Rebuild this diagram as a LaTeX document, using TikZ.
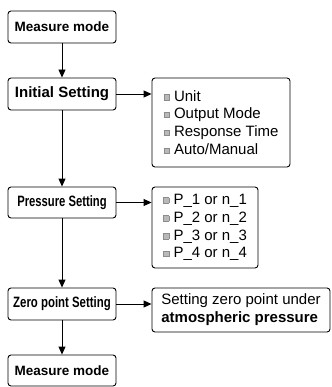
\documentclass[tikz,border=0pt]{standalone}
\usepackage{fontspec}
\setmainfont{Liberation Sans}
\usepackage{graphicx}
\usetikzlibrary{arrows.meta}
\newcommand{\sqbullet}{\raisebox{1.5pt}{{\setlength{\fboxsep}{0pt}\setlength{\fboxrule}{0.5pt}\fcolorbox{gray!90}{gray!55}{\rule{0pt}{5pt}\hspace{5pt}}}}\hspace{4.5pt}}
\begin{document}
\begin{tikzpicture}[x=1pt,y=-1pt,
  stepnode/.style={draw,line width=0.9pt,rounded corners=3pt,minimum width=108pt,minimum height=32pt,inner sep=0pt,font=\bfseries},
  listnode/.style={draw,line width=0.9pt,rounded corners=3pt,align=left,inner sep=0pt,font=\fontsize{15}{17.8}\selectfont},
  flow/.style={line width=0.9pt,-{Triangle[length=8pt,width=7pt]}}]
\useasboundingbox (0,0) rectangle (331,387);
\node[stepnode] (measA) at (62,27) {\fontsize{13.5}{16}\selectfont Measure mode};
\node[stepnode] (init) at (62,94) {\fontsize{15}{18}\selectfont Initial Setting};
\node[stepnode,minimum height=31pt] (press) at (62,202.5) {\fontsize{15}{18}\selectfont\scalebox{0.75}[1]{Pressure Setting}};
\node[stepnode] (zero) at (62,304) {\fontsize{15}{18}\selectfont\scalebox{0.76}[1]{Zero point Setting}};
\node[stepnode,minimum height=31pt] (measB) at (62,370.5) {\fontsize{13.5}{16}\selectfont Measure mode};
\node[listnode,minimum width=138pt,minimum height=89pt] (initlist) at (221,122.5)
  {\sqbullet Unit\\ \sqbullet Output Mode\\ \sqbullet Response Time\\ \sqbullet Auto/Manual};
\node[listnode,minimum width=106pt,minimum height=81pt] (presslist) at (205,227.5)
  {\sqbullet P\_1 or n\_1\\ \sqbullet P\_2 or n\_2\\ \sqbullet P\_3 or n\_3\\ \sqbullet P\_4 or n\_4};
\node[listnode,minimum width=178pt,minimum height=44pt] (zerotext) at (241,310)
  {Setting zero point under\\ \textbf{atmospheric pressure}};
\draw[flow] (measA) -- (init);
\draw[flow] (init) -- (press);
\draw[flow] (press) -- (zero);
\draw[flow] (zero) -- (measB);
\draw[flow] (init.east) -- (init.east -| initlist.west);
\draw[flow] (press.east) -- (press.east -| presslist.west);
\draw[flow] (zero.east) -- (zero.east -| zerotext.west);
\end{tikzpicture}
\end{document}
